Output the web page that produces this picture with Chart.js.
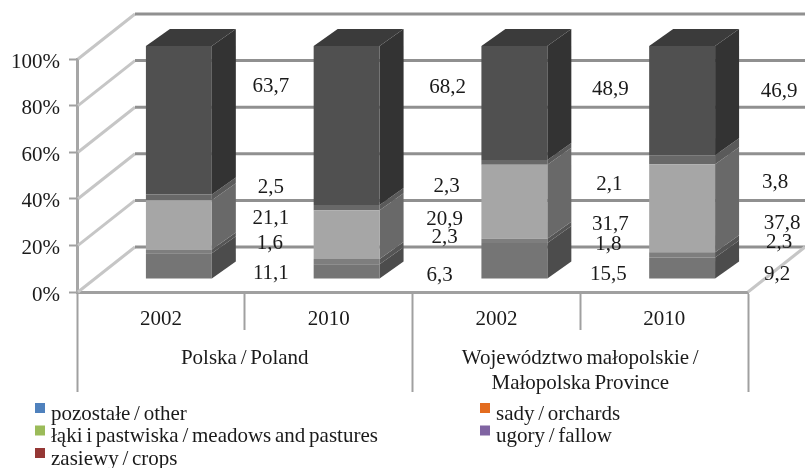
<!DOCTYPE html>
<html>
<head>
<meta charset="utf-8">
<script src="https://cdn.jsdelivr.net/npm/chart.js@4"></script>
<style>
  html, body { margin: 0; background: #fff; }
  canvas { display: block; filter: blur(0.4px); }
</style>
</head>
<body>
<canvas id="myChart" width="805" height="468"></canvas>
<script>
// bottom of the stack first
var seriesNames = ['pozostałe / other', 'sady / orchards', 'łąki i pastwiska / meadows and pastures', 'ugory / fallow', 'zasiewy / crops'];
var years = ['2002', '2010', '2002', '2010'];
var groups = ['Polska / Poland', ['Województwo małopolskie /', 'Małopolska Province']];

var other = [11.1, 6.3, 15.5, 9.2];
var orchards = [1.6, 2.3, 1.8, 2.3];
var meadows = [21.1, 20.9, 31.7, 37.8];
var fallow = [2.5, 2.3, 2.1, 3.8];
var crops = [63.7, 68.2, 48.9, 46.9];
var seriesValues = [other, orchards, meadows, fallow, crops];

// the printed bars are grey, only the legend keeps the office colours
var frontColors = ['#757575', '#7e7e7e', '#a6a6a6', '#686868', '#505050'];
var sideColors = ['#4c4c4c', '#555555', '#696969', '#5a5a5a', '#333333'];
var topColor = '#3b3b3b';
var legendColors = ['#4f81bd', '#e36c1f', '#9bbb59', '#8064a2', '#953735'];

var fontName = "'Liberation Serif', serif";
var textColor = '#1a1a1a';

// 3d offsets
var wallX = 58, wallY = -45;
var barX = 18, barY = -13;
var depthX = 24, depthY = -17;

// labels were hand placed in the original, so nudge each from its segment
var labelShiftX = [
  [110, 111, 112, 113],
  [109, 116, 112, 115],
  [110, 116, 114, 118],
  [110, 118, 113, 111],
  [110, 119, 114, 115]
];
var labelShiftY = [
  [8, 4, 14, 6],
  [-8, -24, 4, -12],
  [-6, -15, 23, 15],
  [-10, -21, 22, 23],
  [-34, -38, -13, -9]
];

function polygon(ctx, pts, color) {
  ctx.fillStyle = color;
  ctx.beginPath();
  ctx.moveTo(pts[0][0], pts[0][1]);
  for (var i = 1; i < pts.length; i++) ctx.lineTo(pts[i][0], pts[i][1]);
  ctx.closePath();
  ctx.fill();
}

function line(ctx, x1, y1, x2, y2) {
  ctx.beginPath();
  ctx.moveTo(x1, y1);
  ctx.lineTo(x2, y2);
  ctx.stroke();
}

var box3d = {
  id: 'box3d',
  beforeDraw: function(chart) {
    // spaces in the original text are squeezed
    chart.ctx.wordSpacing = '-1.5px';
  },
  beforeDatasetsDraw: function(chart) {
    var ctx = chart.ctx, area = chart.chartArea, y = chart.scales.y;
    ctx.save();
    ctx.lineWidth = 3;
    y.ticks.forEach(function(t) {
      var py = y.getPixelForValue(t.value);
      ctx.strokeStyle = '#c6c6c6';
      line(ctx, area.left + 1, py, area.left + wallX, py + wallY);
      ctx.strokeStyle = '#909090';
      line(ctx, area.left + wallX, py + wallY, chart.width, py + wallY);
    });
    ctx.strokeStyle = '#c6c6c6';
    line(ctx, area.right, area.bottom, chart.width, area.bottom + wallY);
    ctx.restore();

    // bars sit halfway into the box; the translate is undone in afterDatasetsDraw
    ctx.save();
    ctx.translate(barX, barY);
    chart.data.datasets.forEach(function(ds, i) {
      chart.getDatasetMeta(i).data.forEach(function(bar) {
        var right = bar.x + bar.width / 2, left = bar.x - bar.width / 2;
        polygon(ctx, [[right, bar.y], [right + depthX, bar.y + depthY], [right + depthX, bar.base + depthY], [right, bar.base]], sideColors[i]);
        if (i == chart.data.datasets.length - 1) {
          polygon(ctx, [[left, bar.y], [left + depthX, bar.y + depthY], [right + depthX, bar.y + depthY], [right, bar.y]], topColor);
        }
      });
    });
  },
  afterDatasetsDraw: function(chart) {
    var ctx = chart.ctx;
    ctx.restore();

    ctx.save();
    ctx.font = '21px ' + fontName;
    ctx.fillStyle = textColor;
    ctx.textAlign = 'center';
    ctx.textBaseline = 'middle';
    seriesValues.forEach(function(values, i) {
      var bars = chart.getDatasetMeta(i).data;
      values.forEach(function(v, j) {
        var x = bars[j].x + labelShiftX[i][j];
        var y = (bars[j].y + bars[j].base) / 2 + barY + labelShiftY[i][j];
        ctx.fillText(String(v).replace('.', ','), x, y);
      });
    });

    // two column legend, the built in one can't line these up
    var columns = [35, 480];
    var rows = [413, 435.5, 458];
    ctx.textAlign = 'left';
    seriesNames.forEach(function(name, i) {
      var cx = columns[i % 2], cy = rows[Math.floor(i / 2)];
      ctx.fillStyle = legendColors[i];
      ctx.fillRect(cx, cy - 10, 10, 10);
      ctx.fillStyle = textColor;
      ctx.fillText(name, cx + 16, cy + 1);
    });
    ctx.restore();
  }
};

var datasets = [];
for (var i = 0; i < seriesNames.length; i++) {
  datasets.push({
    label: seriesNames[i],
    data: seriesValues[i],
    backgroundColor: frontColors[i],
    clip: false
  });
}

var myChart = new Chart(document.getElementById('myChart'), {
  type: 'bar',
  data: { labels: years, datasets: datasets },
  plugins: [box3d],
  options: {
    responsive: false,
    animation: false,
    layout: { padding: { top: 59, right: 57, left: 0, bottom: 0 } },
    plugins: { legend: { display: false }, tooltip: { enabled: false } },
    datasets: { bar: { categoryPercentage: 1, barPercentage: 0.393 } },
    scales: {
      x: {
        stacked: true,
        offset: true,
        afterFit: function(s) { s.height = 38; },
        border: { color: '#a0a0a0', width: 3 },
        grid: { offset: true, drawOnChartArea: false, tickLength: 38, tickWidth: 2, tickColor: '#a0a0a0' },
        ticks: { autoSkip: false, maxRotation: 0, padding: -23, color: textColor, font: { family: fontName, size: 21 } }
      },
      groups: {
        type: 'category',
        position: 'bottom',
        labels: groups,
        offset: true,
        afterFit: function(s) { s.height = 138; },
        border: { display: false },
        grid: { offset: true, drawOnChartArea: false, tickLength: 62, tickWidth: 2, tickColor: '#a0a0a0' },
        ticks: { autoSkip: false, maxRotation: 0, padding: -46, color: textColor, font: { family: fontName, size: 21 } }
      },
      y: {
        stacked: true,
        min: 0,
        max: 100,
        afterFit: function(s) { s.width = 77; },
        border: { color: '#a6a6a6', width: 3 },
        grid: { drawOnChartArea: false, tickLength: 8, tickColor: '#a0a0a0', tickWidth: 2 },
        ticks: {
          stepSize: 20,
          padding: 9,
          labelOffset: 3,
          color: textColor,
          font: { family: fontName, size: 21 },
          callback: function(v) { return v + '%'; }
        }
      }
    }
  }
});
</script>
</body>
</html>
